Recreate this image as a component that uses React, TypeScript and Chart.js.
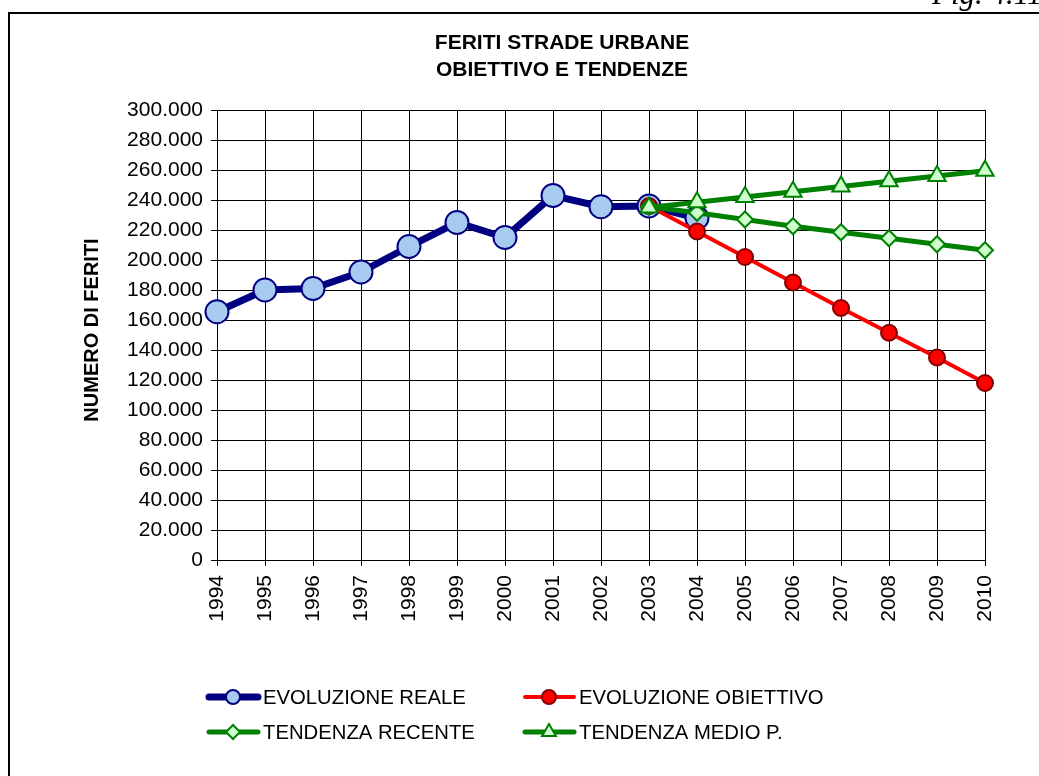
import React, { useEffect, useRef } from "react";
import { Chart, registerables } from "chart.js";

Chart.register(...registerables);

const years = ["1994","1995","1996","1997","1998","1999","2000","2001","2002","2003","2004","2005","2006","2007","2008","2009","2010"];
const evoluzioneReale = [165500, 180000, 181000, 192000, 209000, 225000, 215000, 243000, 235500, 236000, 228000, null, null, null, null, null, null];
const evoluzioneObiettivo = [null, null, null, null, null, null, null, null, null, 236000, 219000, 202000, 185000, 168000, 151500, 135000, 118000];
const tendenzaRecente = [null, null, null, null, null, null, null, null, null, 235500, 231500, 227000, 222500, 218500, 214500, 210500, 206500];
const tendenzaMedio = [null, null, null, null, null, null, null, null, null, 235000, 238500, 242000, 245500, 249000, 252500, 256000, 259500];
const yTicks = [0, 20000, 40000, 60000, 80000, 100000, 120000, 140000, 160000, 180000, 200000, 220000, 240000, 260000, 280000, 300000];
const titleLines = ["FERITI STRADE URBANE", "OBIETTIVO E TENDENZE"];
const yTitle = "NUMERO DI FERITI";
const figLabel = "Fig. 4.11";
const seriesNames = ["EVOLUZIONE REALE", "EVOLUZIONE OBIETTIVO", "TENDENZA RECENTE", "TENDENZA MEDIO P."];

const FONT = "'Liberation Sans', Arial, sans-serif";
const NAVY = "#000080";
const LIGHTBLUE = "#a6caf0";
const RED = "#ff0000";
const DARKRED = "#800000";
const GREEN = "#008000";
const LIGHTGREEN = "#ccffcc";

function fmt(v: number): string {
  if (v === 0) return "0";
  const s = String(Math.round(v));
  return s.replace(/\B(?=(\d{3})+(?!\d))/g, ".");
}

function drawMarker(ctx: CanvasRenderingContext2D, kind: string, x: number, y: number, r: number, fill: string, stroke: string) {
  ctx.save();
  ctx.beginPath();
  if (kind === "circle") {
    ctx.arc(x, y, r, 0, Math.PI * 2);
  } else if (kind === "diamond") {
    ctx.moveTo(x - r, y);
    ctx.lineTo(x, y - r);
    ctx.lineTo(x + r, y);
    ctx.lineTo(x, y + r);
    ctx.closePath();
  } else {
    const h = r * 1.5;
    const w = r * Math.sqrt(3) / 2;
    ctx.moveTo(x, y - r);
    ctx.lineTo(x + w, y + h - r);
    ctx.lineTo(x - w, y + h - r);
    ctx.closePath();
  }
  ctx.fillStyle = fill;
  ctx.fill();
  ctx.lineWidth = 2;
  ctx.strokeStyle = stroke;
  ctx.stroke();
  ctx.restore();
}

const decorPlugin = {
  id: "decor",
  beforeDraw(chart: any) {
    const ctx: CanvasRenderingContext2D = chart.ctx;
    ctx.save();
    ctx.fillStyle = "#ffffff";
    ctx.fillRect(0, 0, chart.width, chart.height);
    ctx.fillStyle = "#000000";
    ctx.fillRect(8, 12, 2, chart.height - 12);
    ctx.fillRect(8, 12, chart.width - 8, 2);
    ctx.restore();
  },
  afterDraw(chart: any) {
    const ctx: CanvasRenderingContext2D = chart.ctx;
    ctx.save();
    // figure label
    ctx.fillStyle = "#000";
    ctx.font = "italic 31px 'Liberation Serif', 'Times New Roman', serif";
    ctx.textAlign = "left";
    ctx.textBaseline = "alphabetic";
    ctx.fillText(figLabel, 932, 4);
    // title
    ctx.font = `bold 21px ${FONT}`;
    ctx.textAlign = "center";
    ctx.textBaseline = "middle";
    ctx.fillText(titleLines[0], 562, 43);
    ctx.fillText(titleLines[1], 562, 70);
    // y title
    ctx.font = `bold 20px ${FONT}`;
    ctx.save();
    ctx.translate(92, 330);
    ctx.rotate(-Math.PI / 2);
    ctx.fillText(yTitle, 0, 0);
    ctx.restore();
    // legend
    const items = [
      { x: 207, y: 697, color: NAVY, lw: 7, kind: "circle", r: 7, fill: LIGHTBLUE, stroke: NAVY },
      { x: 523, y: 697, color: RED, lw: 4, kind: "circle", r: 7, fill: RED, stroke: DARKRED },
      { x: 207, y: 732, color: GREEN, lw: 5, kind: "diamond", r: 7, fill: LIGHTGREEN, stroke: GREEN },
      { x: 523, y: 732, color: GREEN, lw: 5, kind: "triangle", r: 8, fill: LIGHTGREEN, stroke: GREEN },
    ];
    items.forEach((it, i) => {
      ctx.save();
      ctx.strokeStyle = it.color;
      ctx.lineWidth = it.lw;
      ctx.lineCap = "round";
      ctx.beginPath();
      ctx.moveTo(it.x + 2, it.y);
      ctx.lineTo(it.x + 51, it.y);
      ctx.stroke();
      ctx.restore();
      drawMarker(ctx, it.kind, it.x + 26, it.y, it.r, it.fill, it.stroke);
      ctx.fillStyle = "#000";
      ctx.font = `20.3px ${FONT}`;
      ctx.textAlign = "left";
      ctx.textBaseline = "middle";
      ctx.fillText(seriesNames[i], it.x + 56, it.y + 1);
    });
    ctx.restore();
  },
};

export default function App() {
  const ref = useRef<HTMLCanvasElement | null>(null);
  useEffect(() => {
    if (!ref.current) return;
    const chart = new Chart(ref.current, {
      type: "line",
      data: {
        labels: years,
        datasets: [
          {
            label: seriesNames[0],
            data: evoluzioneReale,
            borderColor: NAVY,
            borderWidth: 7,
            pointStyle: "circle",
            pointRadius: 11.5,
            pointBackgroundColor: LIGHTBLUE,
            pointBorderColor: NAVY,
            pointBorderWidth: 2,
            order: 4,
            clip: false,
          } as any,
          {
            label: seriesNames[1],
            data: evoluzioneObiettivo,
            borderColor: RED,
            borderWidth: 4,
            pointStyle: "circle",
            pointRadius: 8,
            pointBackgroundColor: RED,
            pointBorderColor: DARKRED,
            pointBorderWidth: 2,
            order: 3,
            clip: false,
          },
          {
            label: seriesNames[2],
            data: tendenzaRecente,
            borderColor: GREEN,
            borderWidth: 5,
            pointStyle: "rectRot",
            pointRadius: 8,
            pointBackgroundColor: LIGHTGREEN,
            pointBorderColor: GREEN,
            pointBorderWidth: 2,
            order: 2,
            clip: false,
          },
          {
            label: seriesNames[3],
            data: tendenzaMedio,
            borderColor: GREEN,
            borderWidth: 5,
            pointStyle: "triangle",
            pointRadius: 10,
            pointBackgroundColor: LIGHTGREEN,
            pointBorderColor: GREEN,
            pointBorderWidth: 2,
            order: 1,
            clip: false,
          },
        ],
      },
      options: {
        animation: false,
        responsive: true,
        maintainAspectRatio: false,
        spanGaps: false,
        layout: { padding: { left: 0, top: 110, right: 54, bottom: 0 } },
        plugins: {
          legend: { display: false },
          title: { display: false },
          tooltip: { enabled: false },
        },
        scales: {
          x: {
            type: "category",
            offset: false,
            grid: { color: "#000", lineWidth: 1, tickLength: 6, drawTicks: true },
            border: { color: "#000", width: 1 },
            ticks: {
              autoSkip: false,
              minRotation: 90,
              maxRotation: 90,
              padding: 9,
              color: "#000",
              font: { family: FONT, size: 21 },
            },
            afterFit: (s: any) => { s.height = 216; },
          },
          y: {
            min: 0,
            max: 300000,
            grid: { color: "#000", lineWidth: 1, tickLength: 6, drawTicks: true },
            border: { color: "#000", width: 1 },
            afterBuildTicks: (s: any) => { s.ticks = yTicks.map((v) => ({ value: v })); },
            ticks: {
              padding: 8,
              color: "#000",
              font: { family: FONT, size: 21 },
              callback: (v: any) => fmt(Number(v)),
            },
            afterFit: (s: any) => { s.width = 217; },
          },
        },
      },
      plugins: [decorPlugin],
    });
    return () => chart.destroy();
  }, []);
  return (
    <div style={{ position: "fixed", left: 0, top: 0, width: 1039, height: 776, overflow: "hidden", background: "#fff" }}>
      <canvas ref={ref} />
    </div>
  );
}
